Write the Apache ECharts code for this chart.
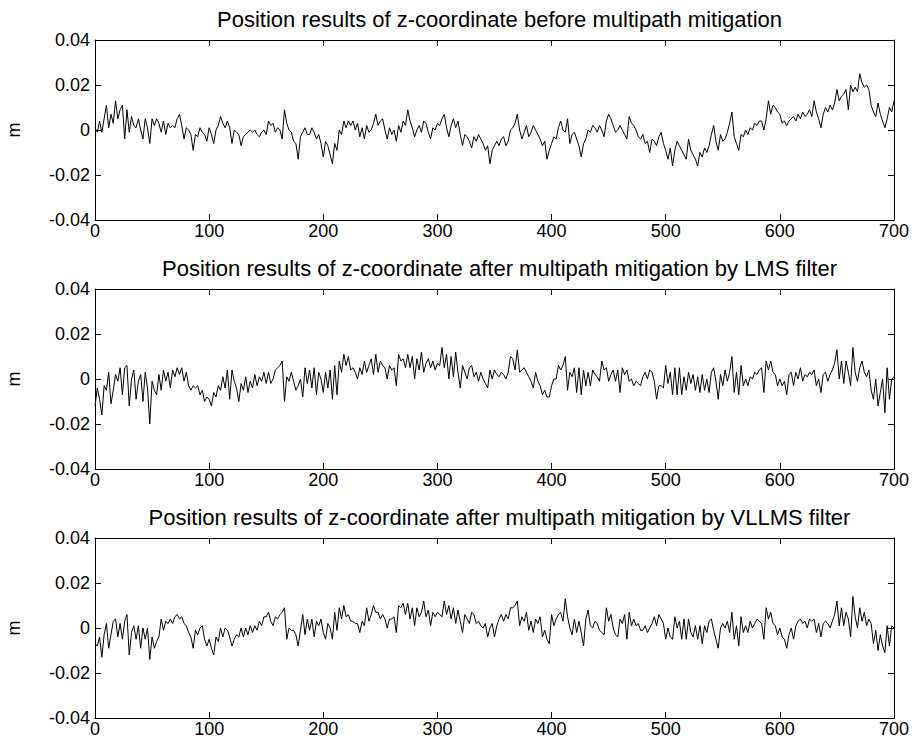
<!DOCTYPE html>
<html>
<head>
<meta charset="utf-8">
<title>Position results of z-coordinate</title>
<script src="https://cdn.jsdelivr.net/npm/echarts@6/dist/echarts.min.js"></script>
<style>
  html, body { margin: 0; padding: 0; background: #fff; }
  #chart { width: 917px; height: 752px; }
</style>
</head>
<body>
<div id="chart"></div>
<script>
// z-coordinate position error (m), one value every 2 epochs from 0 to 700
const epochStep = 2;

const zBefore = [
  0.001, -0.001, 0.004, -0.001, 0.005, 0.011, 0.001, 0.007, 0.003, 0.013,
  0.005, 0.009, 0.011, -0.004, 0.009, -0.001, 0.006, 0.002, 0.001, 0.005,
  0, -0.004, 0.005, 0.001, -0.006, 0.005, 0.002, 0.005, 0.003, -0.001,
  0.004, -0.002, 0.003, 0.001, 0.002, 0.001, 0.005, 0.007, 0.002, -0.004,
  0.001, 0, -0.002, -0.009, -0.002, -0.003, 0.001, -0.001, -0.002, -0.005,
  0.001, -0.002, -0.006, 0, 0.002, 0.006, 0.003, 0.001, 0.004, 0.001,
  -0.006, 0, -0.001, -0.002, -0.007, -0.003, -0.002, -0.001, 0, -0.001,
  0, -0.002, -0.003, -0.001, 0, -0.002, 0.004, 0.002, 0.003, -0.001,
  0.001, 0, -0.004, 0.009, 0.003, 0, -0.001, -0.005, -0.006, -0.013,
  -0.003, -0.001, 0.001, -0.002, -0.002, 0.001, -0.001, -0.004, -0.002, -0.006,
  -0.012, -0.005, -0.007, -0.011, -0.015, -0.006, -0.009, 0, -0.002, 0.004,
  0.001, 0.004, 0.002, 0.004, 0, 0.003, -0.003, 0.001, -0.004, 0.002,
  -0.001, 0, 0.003, 0.007, 0.002, 0.004, 0.005, 0, -0.004, 0.001,
  -0.002, 0, -0.005, 0.002, -0.001, 0.004, 0.002, 0.009, 0.004, 0.001,
  -0.003, 0, 0.002, -0.001, 0.004, 0.003, -0.001, -0.004, 0.001, 0,
  0.003, 0.002, 0.005, 0.007, 0.001, -0.003, 0.002, 0.005, 0.001, 0.004,
  -0.002, -0.007, -0.002, -0.003, -0.005, -0.008, -0.003, -0.005, -0.002, -0.004,
  -0.006, -0.009, -0.007, -0.015, -0.009, -0.007, -0.005, -0.007, -0.004, -0.003,
  -0.007, -0.005, 0, 0.001, 0.003, 0.007, 0, -0.004, -0.001, 0.002,
  -0.003, -0.001, 0.002, 0, -0.002, -0.004, -0.007, -0.005, -0.013, -0.009,
  -0.006, -0.003, -0.004, 0.001, 0.004, 0, -0.001, 0.005, -0.006, -0.002,
  -0.001, -0.004, -0.007, -0.012, -0.006, -0.004, 0, -0.001, 0.002, 0.001,
  -0.001, 0.002, 0, -0.003, 0.004, 0.007, 0.005, 0.002, -0.001, 0,
  0.002, 0, -0.002, -0.004, 0.006, 0.003, 0.002, 0, -0.003, -0.004,
  -0.002, -0.006, -0.005, -0.010, -0.004, -0.005, -0.007, -0.003, -0.001, -0.006,
  -0.009, -0.013, -0.008, -0.016, -0.009, -0.005, -0.007, -0.009, -0.011, -0.013,
  -0.004, -0.009, -0.011, -0.013, -0.016, -0.010, -0.012, -0.008, -0.010, -0.007,
  -0.002, 0.002, -0.005, -0.009, -0.002, -0.005, -0.004, -0.001, 0.003, 0.008,
  -0.003, -0.006, -0.009, -0.002, -0.003, 0, -0.002, 0.001, 0, 0.003,
  0.002, 0.004, 0.004, 0, 0.005, 0.013, 0.007, 0.011, 0.010, 0.008,
  0.007, 0.003, 0.004, 0.002, 0.004, 0.005, 0.006, 0.004, 0.007, 0.005,
  0.008, 0.006, 0.007, 0.009, 0.006, 0.013, 0.008, 0.005, 0.001, 0.007,
  0.010, 0.008, 0.011, 0.009, 0.012, 0.018, 0.013, 0.015, 0.016, 0.018,
  0.009, 0.020, 0.017, 0.019, 0.017, 0.025, 0.021, 0.019, 0.020, 0.018,
  0.011, 0.008, 0.006, 0.012, 0.007, 0.004, 0.001, 0.005, 0.010, 0.008,
  0.013
];

const zLms = [
  -0.012, -0.004, -0.009, -0.016, -0.003, -0.005, 0.003, -0.011, -0.005, 0.002,
  -0.001, 0.005, -0.007, 0.005, 0.006, -0.012, 0, 0.004, -0.009, -0.001,
  0.002, -0.010, 0.003, -0.004, -0.020, -0.001, -0.005, -0.007, 0.002, -0.005,
  0.004, -0.001, 0.003, -0.004, 0.004, 0.001, 0.005, 0.002, 0.005, -0.001,
  0.003, -0.003, -0.005, -0.003, -0.004, -0.003, -0.007, -0.005, -0.010, -0.008,
  -0.009, -0.012, -0.006, -0.008, -0.003, -0.005, 0.001, -0.004, 0.004, -0.009,
  0.004, -0.001, -0.004, -0.010, -0.002, -0.005, 0.001, -0.006, -0.001, -0.004,
  0.002, -0.003, 0.001, -0.001, 0.003, -0.002, 0.003, -0.002, 0, 0.004,
  0.005, 0.006, 0.008, -0.010, 0.001, -0.001, 0.003, -0.001, -0.005, -0.003,
  0, -0.008, 0.005, -0.002, 0.004, -0.004, 0.005, -0.007, 0.003, 0,
  -0.006, 0.003, -0.004, 0.004, -0.009, 0.006, -0.007, 0.008, 0.003, 0.011,
  0.006, 0.010, 0.004, 0.005, 0.003, 0, 0.005, 0.002, 0.008, 0.003,
  0.006, 0.009, 0.002, 0.011, 0.003, 0.008, 0.006, 0.005, 0, 0.006,
  0.004, 0.005, -0.003, 0.011, 0.008, 0.009, 0.005, 0.011, 0.005, 0.010,
  0, 0.009, 0.004, 0.012, 0.003, 0.007, 0.009, 0.005, 0.008, 0.004,
  0.007, 0.006, 0.014, 0.005, 0.011, 0, 0.010, 0.001, 0.012, 0.003,
  -0.004, 0.006, 0.003, 0, 0.005, 0.006, 0.001, 0.003, -0.001, 0.003,
  0, -0.002, -0.004, 0.004, 0, 0.004, 0.002, 0.001, 0.003, 0.002,
  0, 0.003, 0.010, 0.009, 0.004, 0.013, 0.003, 0.004, 0.005, 0.003,
  0.001, -0.001, -0.004, 0.003, -0.001, -0.003, -0.007, -0.005, -0.008, -0.008,
  -0.003, 0, 0, 0.006, 0.004, 0.006, 0.010, -0.005, 0.003, 0.001,
  0.005, -0.006, 0.005, -0.007, 0.004, -0.003, 0.003, -0.003, 0.004, 0.002,
  0.001, -0.001, 0.008, 0.004, 0.005, -0.001, 0.002, 0.004, -0.001, 0.004,
  -0.006, 0.005, 0.002, 0.004, -0.001, 0, -0.003, -0.001, -0.002, -0.003,
  0.001, 0.003, 0, 0.004, 0.003, -0.001, -0.009, -0.003, -0.003, -0.004,
  0.006, -0.002, 0.003, -0.007, 0.005, -0.007, 0.005, -0.007, 0.001, -0.005,
  0.003, -0.002, 0.002, -0.005, 0.001, -0.006, 0.002, -0.005, 0, -0.006,
  0.003, 0.005, -0.001, -0.009, 0.002, -0.003, 0.004, -0.001, 0.003, 0.010,
  -0.006, 0.003, -0.007, 0.006, -0.003, 0, -0.003, 0.001, 0, 0.003,
  0.002, 0.004, 0.005, -0.006, 0.008, 0.004, 0.008, 0.003, 0.002, -0.003,
  0, -0.003, -0.001, -0.007, 0.002, 0.003, -0.003, 0.003, 0, 0.005,
  -0.001, 0.002, 0.001, 0.003, 0.002, 0.004, -0.003, 0, -0.006, 0.002,
  0.003, -0.001, 0.002, 0.004, 0.007, 0.013, 0, 0.008, -0.002, 0.008,
  0.003, -0.003, 0.014, 0.003, -0.001, 0.005, 0.008, 0.003, 0.001, 0.004,
  -0.005, -0.009, 0, -0.012, -0.006, 0, -0.015, 0.005, -0.009, 0,
  0.001
];

const zVllms = [
  -0.007, -0.008, -0.004, -0.013, -0.003, 0.002, -0.009, -0.003, 0.003, 0.004,
  -0.004, 0.002, -0.005, 0.003, 0.006, -0.012, -0.002, 0.001, -0.005, 0.001,
  -0.009, 0, -0.005, 0, -0.014, -0.004, -0.009, -0.006, -0.004, 0.004,
  -0.001, 0.003, 0.002, 0.004, 0.002, 0.005, 0.006, 0.004, 0.005, 0.002,
  0.001, -0.002, -0.004, -0.009, -0.001, -0.003, 0, 0.001, -0.005, -0.008,
  -0.005, -0.009, -0.012, -0.004, -0.006, 0, -0.004, 0, -0.001, -0.004,
  -0.008, -0.005, -0.003, -0.004, 0, -0.004, 0, -0.003, 0.001, -0.002,
  0.001, -0.001, 0.003, 0.001, 0.005, 0.005, 0.007, 0.003, 0.001, 0.005,
  0.004, 0.006, 0.007, 0.009, -0.005, 0, -0.001, -0.001, -0.003, -0.008,
  -0.001, 0.006, -0.003, 0.004, -0.001, 0.004, -0.004, 0.003, 0.001, 0.004,
  -0.002, -0.005, 0.002, 0, -0.005, 0.007, -0.001, 0.009, 0.004, 0.010,
  0.005, 0.006, 0.003, 0.003, 0.002, 0.002, -0.002, 0.003, 0.001, 0.009,
  0.003, 0.006, 0.010, 0.007, 0.007, 0.004, 0.006, 0.004, 0, 0.004,
  0.004, 0.005, -0.002, 0.010, 0.009, 0.011, 0.006, 0.011, 0.004, 0.009,
  0.001, 0.009, 0.005, 0.007, 0.012, 0.005, 0.008, 0.001, 0.007, 0.005,
  0.007, 0.006, 0.005, 0.012, 0.006, 0.010, 0.004, 0.009, 0.002, 0.008,
  0.003, -0.002, 0.006, 0.004, 0.002, 0.007, 0.006, 0.002, 0.003, 0.001,
  0, 0.002, -0.004, 0, 0.002, -0.004, 0.001, 0.004, 0.006, 0.003,
  0.006, 0.004, 0.009, 0.009, 0.010, 0.012, 0.001, 0.005, 0.003, 0.007,
  -0.001, 0.003, -0.002, 0.004, 0.002, 0.005, -0.004, -0.001, -0.005, -0.007,
  0.006, 0.001, 0.004, 0.006, 0.007, 0.003, 0.013, 0.005, 0, -0.003,
  0.004, -0.002, 0.003, -0.002, -0.008, 0.004, 0.008, 0.001, 0, 0.003,
  0.002, -0.001, -0.002, -0.003, 0.009, 0.003, 0.006, 0, -0.003, -0.004,
  0.004, 0.002, 0.006, -0.005, 0.007, 0.001, 0.004, 0.001, 0.002, -0.001,
  -0.001, 0.001, -0.002, 0, 0.002, 0.005, 0.001, 0.006, 0.004, 0.002,
  -0.005, 0, -0.004, -0.005, 0.005, 0, 0.003, -0.005, 0.004, -0.005,
  0.004, -0.002, -0.004, 0.001, -0.005, 0.001, -0.007, 0.001, -0.002, 0.003,
  0.004, -0.001, -0.005, -0.009, 0, 0.002, 0, 0.003, -0.002, 0.007,
  -0.005, 0.001, -0.008, 0.005, -0.002, 0.001, -0.002, 0.003, 0, 0.002,
  0.004, 0.003, 0.002, -0.005, 0.009, 0.004, 0.007, 0.002, 0.001, -0.003,
  0, -0.004, -0.005, -0.009, -0.003, 0, -0.005, 0.001, 0.003, 0.004,
  0.002, 0.003, 0, 0.004, 0.003, 0.004, -0.002, 0.002, -0.004, 0.002,
  0.003, 0.002, 0, 0.003, 0.006, 0.012, 0.001, 0.009, 0.001, 0.007,
  0.004, -0.004, 0.014, 0.005, 0, 0.009, 0.003, 0.007, 0.001, 0.004,
  0.002, -0.007, -0.001, -0.010, -0.003, -0.008, -0.011, 0.001, -0.008, 0.001,
  0
];

const panelTitles = [
  'Position results of z-coordinate before multipath mitigation',
  'Position results of z-coordinate after multipath mitigation by LMS filter',
  'Position results of z-coordinate after multipath mitigation by VLLMS filter'
];
const panelSeries = [zBefore, zLms, zVllms];
const xTicks = [0, 100, 200, 300, 400, 500, 600, 700];
const yTicks = [-0.04, -0.02, 0, 0.02, 0.04];
const yUnit = 'm';

const FONT = 'Liberation Sans, Arial, sans-serif';
const panelTop = [40, 289, 538];
const panelLeft = 95;
const panelWidth = 799;
const panelHeight = 180;

const grids = [], xAxes = [], yAxes = [], series = [], titles = [];

const lineColor = '#000';
const tickStyle = { inside: true, length: 6, lineStyle: { color: lineColor, width: 1 } };

panelSeries.forEach((values, i) => {
  grids.push({
    left: panelLeft, top: panelTop[i], width: panelWidth, height: panelHeight,
    containLabel: false, outerBoundsMode: 'none'
  });

  titles.push({
    text: panelTitles[i],
    left: panelLeft + panelWidth / 2,
    top: panelTop[i] - 37,
    textAlign: 'center',
    textStyle: { fontFamily: FONT, fontSize: 22, fontWeight: 'normal', color: '#000' }
  });

  const xBase = {
    gridIndex: i, type: 'value',
    min: xTicks[0], max: xTicks[xTicks.length - 1],
    interval: xTicks[1] - xTicks[0],
    splitLine: { show: false },
    axisLine: { show: true, onZero: false, lineStyle: { color: lineColor, width: 1 } },
    axisTick: tickStyle
  };
  xAxes.push(Object.assign({}, xBase, {
    position: 'bottom',
    axisLabel: { color: '#000', fontFamily: FONT, fontSize: 18, margin: 2 }
  }));
  xAxes.push(Object.assign({}, xBase, { position: 'top', axisLabel: { show: false } }));

  const yBase = {
    gridIndex: i, type: 'value',
    min: yTicks[0], max: yTicks[yTicks.length - 1],
    interval: yTicks[1] - yTicks[0],
    splitLine: { show: false },
    axisLine: { show: true, onZero: false, lineStyle: { color: lineColor, width: 1 } },
    axisTick: tickStyle
  };
  yAxes.push(Object.assign({}, yBase, {
    position: 'left',
    name: yUnit,
    nameLocation: 'middle',
    nameGap: 72,
    nameRotate: 90,
    nameTextStyle: { fontFamily: FONT, fontSize: 18, color: '#000' },
    axisLabel: {
      color: '#000', fontFamily: FONT, fontSize: 18, margin: 5,
      formatter: v => String(parseFloat(v.toFixed(2)))
    }
  }));
  yAxes.push(Object.assign({}, yBase, { position: 'right', axisLabel: { show: false } }));

  series.push({
    type: 'line',
    xAxisIndex: 2 * i,
    yAxisIndex: 2 * i,
    data: values.map((v, k) => [k * epochStep, v]),
    symbol: 'none',
    showSymbol: false,
    lineStyle: { color: lineColor, width: 1 },
    animation: false
  });
});

const chart = echarts.init(document.getElementById('chart'), null, { renderer: 'svg' });
chart.setOption({
  backgroundColor: '#fff',
  animation: false,
  title: titles,
  grid: grids,
  xAxis: xAxes,
  yAxis: yAxes,
  series: series
});
</script>
</body>
</html>
